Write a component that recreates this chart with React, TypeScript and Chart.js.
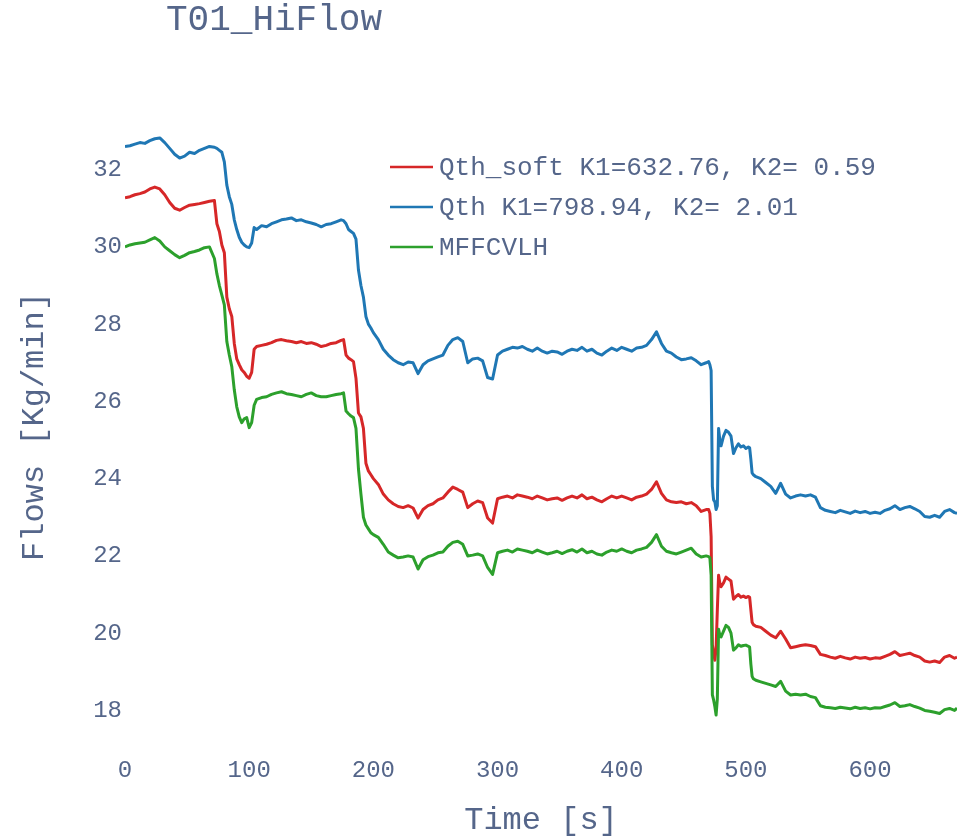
import React, { useEffect, useRef } from "react";
import { Chart, registerables } from "chart.js";

Chart.register(...registerables);

const chartTitle = "T01_HiFlow";
const xAxisTitle = "Time [s]";
const yAxisTitle = "Flows [Kg/min]";
const seriesLabels = ["Qth_soft K1=632.76, K2= 0.59", "Qth K1=798.94, K2= 2.01", "MFFCVLH"];
const seriesColors = ["#d62728", "#1f77b4", "#2ca02c"];
const xTickValues = [0, 100, 200, 300, 400, 500, 600];
const yTickValues = [18, 20, 22, 24, 26, 28, 30, 32];

// time [s]
const times = [
  0, 4, 8, 12, 16, 20, 24, 28, 32, 36, 40, 44, 48, 52, 56, 60, 64, 68, 72,
  74, 76, 78, 80, 82, 84, 86, 88, 90, 92, 94, 96, 98, 100, 102, 104, 106,
  110, 114, 118, 122, 126, 130, 134, 138, 142, 146, 150, 154, 158, 162, 166, 170, 174,
  176, 178, 180, 182, 184, 186, 188, 190, 192, 194, 196, 198, 200,
  204, 208, 212, 216, 220, 224, 228, 232, 236, 240, 244, 248, 252, 256, 260,
  264, 268, 272, 276, 280, 284, 288, 292, 296, 300, 304, 308, 312, 316, 320,
  324, 328, 332, 336, 340, 344, 348, 352, 356, 360, 364, 368, 372, 376, 380,
  384, 388, 392, 396, 400, 404, 408, 412, 416, 420, 424, 428, 432, 436, 440,
  444, 448, 452, 456, 460, 464, 468,
  470, 471, 472, 473, 474, 475, 476, 477, 478, 479, 480, 482, 484, 486, 488,
  490, 492, 494, 496, 498, 500, 502, 503, 504, 505, 506, 508,
  512, 516, 520, 524, 528, 532, 536, 540, 544, 548, 552, 556, 560, 564, 568,
  572, 576, 580, 584, 588, 592, 596, 600, 604, 608, 612, 616, 620, 624, 628,
  632, 636, 640, 644, 648, 652, 656, 660, 664, 668, 670,
];

// Qth_soft (red)
const qthSoft = [
  31.27, 31.3, 31.35, 31.38, 31.42, 31.5, 31.55, 31.5, 31.35, 31.15, 31.0, 30.95, 31.02, 31.08, 31.1, 31.12, 31.15, 31.18, 31.2,
  30.6, 30.4, 30.05, 29.85, 28.7, 28.4, 28.2, 27.5, 27.1, 26.95, 26.82, 26.75, 26.65, 26.6, 26.75, 27.35, 27.42,
  27.45, 27.48, 27.52, 27.58, 27.6, 27.57, 27.55, 27.52, 27.55, 27.5, 27.52, 27.48, 27.42, 27.45, 27.5, 27.52, 27.58,
  27.6, 27.2, 27.12, 27.08, 27.03, 26.6, 25.7, 25.6, 25.3, 24.4, 24.2, 24.1, 24.0,
  23.85, 23.6, 23.45, 23.35, 23.28, 23.25, 23.3, 23.24, 22.98, 23.2, 23.3, 23.35, 23.45, 23.5, 23.65,
  23.78, 23.72, 23.65, 23.25, 23.35, 23.42, 23.38, 22.98, 22.85, 23.48, 23.52, 23.55, 23.5, 23.58, 23.55,
  23.52, 23.48, 23.55, 23.5, 23.45, 23.48, 23.5, 23.44, 23.5, 23.55, 23.5, 23.58, 23.48, 23.52, 23.45,
  23.4, 23.48, 23.55, 23.5, 23.55, 23.5, 23.45, 23.52, 23.55, 23.6, 23.72, 23.92, 23.62, 23.45, 23.4,
  23.38, 23.4, 23.35, 23.38, 23.3, 23.15, 23.2,
  23.2, 23.1, 22.5, 19.7, 19.5, 19.3, 19.6, 20.6, 21.5, 21.3, 21.2, 21.3, 21.45, 21.4, 21.35,
  20.88, 20.95, 21.0, 20.93, 20.96, 20.92, 20.95, 20.93, 20.6, 20.28, 20.22, 20.18,
  20.15, 20.05, 19.95, 19.88, 20.05, 19.85, 19.62, 19.65, 19.68, 19.7, 19.68, 19.65, 19.45, 19.42, 19.38,
  19.35, 19.4, 19.36, 19.33, 19.38, 19.35, 19.37, 19.33, 19.36, 19.35, 19.4, 19.45, 19.52, 19.42, 19.45,
  19.48, 19.42, 19.38, 19.28, 19.25, 19.28, 19.24, 19.38, 19.42, 19.35, 19.38,
];

// Qth (blue)
const qth = [
  32.6, 32.62, 32.66, 32.7, 32.68, 32.75, 32.8, 32.82, 32.7, 32.55, 32.4, 32.3, 32.35, 32.45, 32.42, 32.5, 32.55, 32.6, 32.58,
  32.55, 32.5, 32.45, 32.2, 31.6, 31.3, 31.1, 30.7, 30.45, 30.25, 30.12, 30.05, 30.0, 29.98, 30.1, 30.5, 30.45,
  30.55, 30.52, 30.6, 30.65, 30.7, 30.72, 30.75, 30.68, 30.7, 30.65, 30.62, 30.58, 30.52, 30.58, 30.6, 30.65, 30.7,
  30.68, 30.6, 30.45, 30.4, 30.35, 30.2, 29.4, 29.0, 28.7, 28.2, 28.0, 27.9, 27.78,
  27.6, 27.35, 27.2, 27.08, 27.0, 26.95, 27.02, 27.0, 26.72, 26.95, 27.05, 27.1, 27.15, 27.2, 27.45,
  27.6, 27.65, 27.55, 27.0, 27.1, 27.12, 27.05, 26.62, 26.58, 27.2, 27.3, 27.35, 27.4, 27.38, 27.42,
  27.35, 27.3, 27.38, 27.3, 27.25, 27.3, 27.28, 27.22, 27.3, 27.35, 27.32, 27.4, 27.3, 27.35, 27.25,
  27.2, 27.3, 27.38, 27.32, 27.4, 27.35, 27.3, 27.38, 27.4, 27.45, 27.6, 27.8, 27.5, 27.3, 27.25,
  27.15, 27.08, 27.1, 27.13, 27.05, 26.95, 27.0,
  27.03, 26.95, 26.8, 23.8, 23.45, 23.4, 23.2, 23.3, 25.3, 25.0, 24.85, 25.1, 25.25, 25.2, 25.1,
  24.65, 24.8, 24.9, 24.82, 24.85, 24.78, 24.82, 24.8, 24.5, 24.15, 24.1, 24.05,
  24.0, 23.9, 23.8, 23.62, 23.88, 23.6, 23.5, 23.55, 23.58, 23.55, 23.58, 23.52, 23.25, 23.18, 23.15,
  23.12, 23.18, 23.14, 23.1, 23.16, 23.12, 23.15, 23.1, 23.13, 23.1, 23.18, 23.22, 23.3, 23.2, 23.25,
  23.28, 23.22, 23.15, 23.02, 23.0, 23.05, 23.0, 23.15, 23.2, 23.12, 23.1,
];

// MFFCVLH (green)
const mffcvlh = [
  30.0, 30.05, 30.08, 30.1, 30.12, 30.18, 30.24, 30.15, 30.0, 29.9, 29.8, 29.72, 29.78, 29.85, 29.88, 29.92, 29.98, 30.0, 29.7,
  29.3, 29.0, 28.75, 28.5, 27.55, 27.2, 26.9, 26.3, 25.86, 25.6, 25.45, 25.55, 25.58, 25.32, 25.45, 25.9, 26.05,
  26.1, 26.12, 26.18, 26.22, 26.25, 26.2, 26.18, 26.15, 26.12, 26.18, 26.22, 26.15, 26.12, 26.12, 26.15, 26.18, 26.2,
  26.22, 25.75, 25.68, 25.62, 25.58, 25.3, 24.25, 23.6, 23.0, 22.8, 22.7, 22.6, 22.55,
  22.48, 22.3, 22.1, 22.02, 21.95, 21.97, 22.0, 21.97, 21.66, 21.9, 21.98, 22.02, 22.08, 22.1, 22.25,
  22.35, 22.38, 22.3, 22.0, 22.02, 22.05, 22.0, 21.7, 21.52, 22.08, 22.12, 22.15, 22.1, 22.18, 22.15,
  22.12, 22.08, 22.15, 22.1, 22.05, 22.08, 22.12, 22.06, 22.12, 22.16, 22.1, 22.18, 22.08, 22.12, 22.05,
  22.02, 22.1, 22.15, 22.12, 22.18, 22.12, 22.08, 22.15, 22.18, 22.22, 22.35, 22.55, 22.25, 22.12, 22.08,
  22.05, 22.1, 22.15, 22.2, 22.05, 21.97, 22.0,
  21.98, 21.95, 21.5, 18.4, 18.27, 18.1, 17.88, 18.3, 20.1, 19.95, 19.9, 20.05, 20.2, 20.15, 20.0,
  19.56, 19.62, 19.7, 19.66, 19.68, 19.69, 19.66, 19.64, 19.2, 18.88, 18.82, 18.78,
  18.74, 18.7, 18.66, 18.62, 18.75, 18.5, 18.4, 18.42, 18.4, 18.42, 18.36, 18.33, 18.12, 18.08, 18.07,
  18.05, 18.08, 18.06, 18.04, 18.08, 18.05, 18.07, 18.04, 18.07, 18.06, 18.1, 18.14, 18.2, 18.1, 18.12,
  18.15, 18.1, 18.06, 18.0, 17.98, 17.95, 17.92, 18.02, 18.05, 18.0, 18.06,
];

const FONT = "'Courier New', 'Liberation Mono', monospace";
const TEXT = "#55668a";
const W = 969;
const H = 837;

function toPoints(vals: number[]) {
  const n = Math.min(vals.length, times.length);
  const pts: { x: number; y: number }[] = [];
  for (let i = 0; i < n; i++) pts.push({ x: times[i], y: vals[i] });
  return pts;
}

const overlayPlugin = {
  id: "overlay",
  afterDraw(chart: any) {
    const { ctx, chartArea } = chart;
    ctx.save();
    ctx.fillStyle = TEXT;
    ctx.textAlign = "left";
    ctx.textBaseline = "alphabetic";
    ctx.font = `36px ${FONT}`;
    ctx.fillText(chartTitle, 166, 30);

    const lx = chartArea.left + 265;
    const ly = chartArea.top + 58;
    ctx.font = `26px ${FONT}`;
    ctx.textBaseline = "middle";
    chart.data.datasets.forEach((ds: any, i: number) => {
      const y = ly + i * 40;
      ctx.strokeStyle = ds.borderColor;
      ctx.lineWidth = 2.5;
      ctx.beginPath();
      ctx.moveTo(lx, y);
      ctx.lineTo(lx + 43, y);
      ctx.stroke();
      ctx.fillStyle = TEXT;
      ctx.fillText(ds.label, lx + 49, y + 1);
    });
    ctx.restore();
  },
};

export default function App() {
  const ref = useRef<HTMLCanvasElement | null>(null);

  useEffect(() => {
    if (!ref.current) return;
    const series = [qthSoft, qth, mffcvlh];
    const chart = new Chart(ref.current, {
      type: "line",
      data: {
        datasets: series.map((vals, i) => ({
          label: seriesLabels[i],
          data: toPoints(vals),
          borderColor: seriesColors[i],
          backgroundColor: seriesColors[i],
          borderWidth: 3,
          borderJoinStyle: "round" as const,
          pointRadius: 0,
          tension: 0,
          fill: false,
          order: 3 - i,
        })),
      },
      options: {
        responsive: false,
        animation: false,
        events: [],
        layout: { padding: { top: 109, right: 12, bottom: 0, left: 0 } },
        plugins: {
          legend: { display: false },
          title: { display: false },
          tooltip: { enabled: false },
        },
        scales: {
          x: {
            type: "linear",
            min: 0,
            max: 670,
            grid: { display: false, drawTicks: false },
            border: { display: false },
            ticks: {
              font: { family: FONT, size: 24 },
              color: TEXT,
              padding: 12,
              includeBounds: false,
              autoSkip: false,
              maxRotation: 0,
            },
            afterBuildTicks: (s: any) => {
              s.ticks = xTickValues.map((v) => ({ value: v }));
            },
            afterFit: (s: any) => {
              s.height = 93;
            },
            title: {
              display: true,
              text: xAxisTitle,
              color: TEXT,
              font: { family: FONT, size: 32, lineHeight: 1 },
              padding: { top: 0, bottom: 0 },
            },
          },
          y: {
            type: "linear",
            min: 17.13,
            max: 33.57,
            grid: { display: false, drawTicks: false },
            border: { display: false },
            ticks: {
              font: { family: FONT, size: 24 },
              color: TEXT,
              padding: 3,
              includeBounds: false,
              autoSkip: false,
            },
            afterBuildTicks: (s: any) => {
              s.ticks = yTickValues.map((v) => ({ value: v }));
            },
            afterFit: (s: any) => {
              s.width = 125;
            },
            title: {
              display: true,
              text: yAxisTitle,
              color: TEXT,
              font: { family: FONT, size: 32, lineHeight: 1 },
              padding: { top: 19, bottom: 0 },
            },
          },
        },
      },
      plugins: [overlayPlugin],
    });
    return () => chart.destroy();
  }, []);

  return (
    <div style={{ position: "fixed", left: 0, top: 0, width: W, height: H, background: "#fff" }}>
      <canvas ref={ref} width={W} height={H} style={{ display: "block", width: W, height: H }} />
    </div>
  );
}
